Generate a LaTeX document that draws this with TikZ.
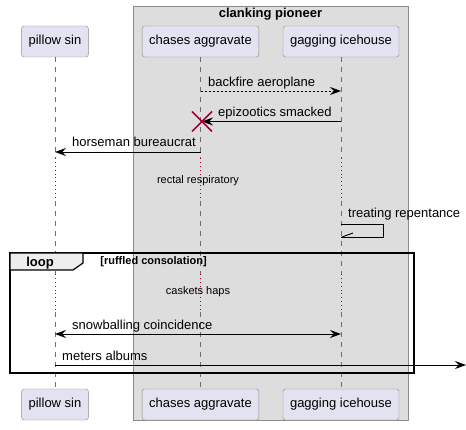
\documentclass[tikz,border=0pt]{standalone}
\usepackage{fontspec}
\setmainfont{Liberation Sans}
\usetikzlibrary{positioning,arrows.meta}
\definecolor{partfill}{HTML}{E2E2F0}
\definecolor{partline}{HTML}{8C8C8C}
\definecolor{boxfill}{HTML}{DDDDDD}
\definecolor{boxline}{HTML}{8C8C8C}
\definecolor{lifeline}{HTML}{6E6E6E}
\definecolor{delay}{HTML}{A80036}
\definecolor{tabfill}{HTML}{EEEEEE}

\begin{document}
\begin{tikzpicture}[
  x=1pt, y=-1pt,
  >={Stealth[length=11pt, width=8pt, inset=4pt]},
  part/.style={draw=partline, fill=partfill, rounded corners=2.5pt, minimum height=31pt,
               inner xsep=7pt, font=\fontsize{13}{15}\selectfont},
  life/.style={draw=lifeline, line width=0.7pt, dash pattern=on 5pt off 5pt},
  wait/.style={draw=delay, line width=0.9pt, dash pattern=on 0.9pt off 3pt},
  msg/.style={->, line width=0.9pt},
  lbl/.style={anchor=base west, inner sep=0pt, font=\fontsize{13}{15}\selectfont},
  note/.style={anchor=base, inner sep=0pt, font=\fontsize{11}{13}\selectfont}
]
  \useasboundingbox (0,0) rectangle (466,430);

  % Group box
  \draw[draw=boxline, fill=boxfill] (133,6) rectangle (408,420);
  \node[anchor=base, inner sep=0pt, font=\bfseries\fontsize{13}{15}\selectfont] (title) at (270.5,18) {clanking pioneer};

  % Participants
  \node[part] (pillow-top) at (55,41.5) {pillow sin};
  \node[part] (chases-top) at (200.5,41.5) {chases aggravate};
  \node[part] (gagging-top) at (341,41.5) {gagging icehouse};
  \node[part] (pillow-bot) at (55,404.5) {pillow sin};
  \node[part] (chases-bot) at (200.5,404.5) {chases aggravate};
  \node[part] (gagging-bot) at (341,404.5) {gagging icehouse};

  % Levels
  \coordinate (y-backfire) at (0,91);
  \coordinate (y-epi) at (0,121.5);
  \coordinate (y-horse) at (0,152);
  \coordinate (y-waitA) at (0,158);
  \coordinate (y-waitAe) at (0,201);
  \coordinate (y-self) at (0,224);
  \coordinate (y-selfe) at (0,237);
  \coordinate (y-waitB) at (0,274);
  \coordinate (y-waitBe) at (0,312);
  \coordinate (y-snow) at (0,334);
  \coordinate (y-meters) at (0,365);
  \coordinate (out) at (466,365);
  \coordinate (xcross) at (202,121.5);

  % Lifelines
  \foreach \p in {pillow,chases,gagging}{
    \draw[life] (\p-top.south) -- (\p-top |- y-waitA);
    \draw[wait] (\p-top |- y-waitA) -- (\p-top |- y-waitAe);
    \draw[life] (\p-top |- y-waitAe) -- (\p-top |- y-waitB);
    \draw[wait] (\p-top |- y-waitB) -- (\p-top |- y-waitBe);
    \draw[life] (\p-top |- y-waitBe) -- (\p-bot.north);
  }

  % Loop frame
  \draw[line width=1.5pt] (10,253) rectangle (414,373);
  \draw[fill=tabfill, line width=1.2pt] (10,253) -- (83,253) -- (83,263) -- (73,270) -- (10,270) -- cycle;
  \node[anchor=base, inner sep=0pt, font=\bfseries\fontsize{13}{15}\selectfont] (loop) at (40,267) {loop};
  \node[anchor=base, inner sep=0pt, font=\bfseries\fontsize{11}{13}\selectfont] (guard) at (153.5,265) {[ruffled consolation]};

  % Messages
  \draw[msg, dash pattern=on 2pt off 2pt] (chases-top |- y-backfire) -- (gagging-top |- y-backfire);
  \node[lbl] (lbl-backfire) at (208,87) {backfire aeroplane};

  \draw[msg] (gagging-top |- y-epi) -- (xcross);
  \node[lbl] (lbl-epi) at (218,117) {epizootics smacked};
  \draw[delay, line width=1.6pt] (xcross) ++(-10,-10) -- ++(20,20);
  \draw[delay, line width=1.6pt] (xcross) ++(10,-10) -- ++(-20,20);

  \draw[msg] (chases-top |- y-horse) -- (pillow-top |- y-horse);
  \node[lbl] (lbl-horse) at (72,147) {horseman bureaucrat};

  \node[note] (lbl-waitA) at (198,184) {rectal respiratory};

  \node[lbl] (lbl-self) at (348,218) {treating repentance};
  \draw[line width=0.9pt] (gagging-top |- y-self) -- ++(42,0) |- (gagging-top |- y-selfe);
  \draw[line width=0.9pt] (gagging-top |- y-selfe) ++(1,0) -- ++(11,-4);

  \node[note] (lbl-waitB) at (198,295) {caskets haps};

  \draw[msg, <->] (pillow-top |- y-snow) -- (gagging-top |- y-snow);
  \node[lbl] (lbl-snow) at (72,330) {snowballing coincidence};

  \draw[msg] (pillow-top |- y-meters) -- (out);
  \node[lbl] (lbl-meters) at (62,360) {meters albums};
\end{tikzpicture}
\end{document}
